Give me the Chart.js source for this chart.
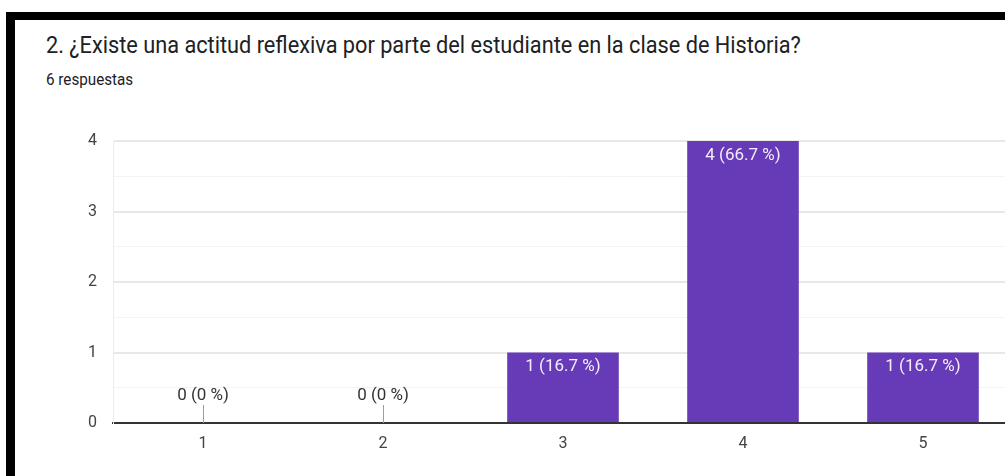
<!DOCTYPE html>
<html>
<head>
<meta charset="utf-8">
<script src="https://cdn.jsdelivr.net/npm/chart.js@4"></script>
<style>
  html, body { margin: 0; padding: 0; background: #fff; overflow: hidden; }
  body { width: 1005px; height: 476px; position: relative; font-family: Roboto, "Noto Sans", sans-serif; }
  .frame-top { position: absolute; left: 6px; top: 12px; width: 999px; height: 8px; background: #000; z-index: 2; }
  .frame-left { position: absolute; left: 6px; top: 12px; width: 9px; height: 464px; background: #000; z-index: 2; }
  #title { position: absolute; left: 46px; top: 31px; font-size: 24px; color: #202124; white-space: nowrap; transform-origin: 0 0; transform: scaleX(0.905); }
  #subtitle { position: absolute; left: 46px; top: 70px; font-size: 16px; color: #202124; white-space: nowrap; transform-origin: 0 0; transform: scaleX(0.95); }
  #wrap { position: absolute; left: 0; top: 0; width: 1013px; height: 476px; }
</style>
</head>
<body>
<div class="frame-top"></div>
<div class="frame-left"></div>
<div id="title">2. ¿Existe una actitud reflexiva por parte del estudiante en la clase de Historia?</div>
<div id="subtitle">6 respuestas</div>
<div id="wrap"><canvas id="chart"></canvas></div>
<script>
// answers on the 1-5 scale and how many students picked each
const categories = ["1", "2", "3", "4", "5"];
const counts = [0, 0, 1, 4, 1];
const percents = ["0 %", "0 %", "16.7 %", "66.7 %", "16.7 %"];
const totalResponses = 6;

const PURPLE = "#673ab7";

// "n (p %)" labels: white inside the bar top, or dark above the axis for empty bars
const barLabels = {
    id: "barLabels",
    afterDatasetsDraw(chart) {
        const ctx = chart.ctx;
        const meta = chart.getDatasetMeta(0);
        ctx.save();
        ctx.font = "17px Roboto, sans-serif";
        ctx.textAlign = "center";
        meta.data.forEach((bar, i) => {
            const text = counts[i] + " (" + percents[i] + ")";
            if (counts[i] > 0) {
                ctx.fillStyle = "#f3eefb";
                ctx.textBaseline = "top";
                ctx.fillText(text, bar.x, bar.y + 6);
            } else {
                ctx.strokeStyle = "#9e9e9e";
                ctx.lineWidth = 1;
                ctx.beginPath();
                ctx.moveTo(Math.round(bar.x) + 0.5, bar.base - 18);
                ctx.lineTo(Math.round(bar.x) + 0.5, bar.base);
                ctx.stroke();
                ctx.fillStyle = "#333";
                ctx.textBaseline = "middle";
                ctx.fillText(text, bar.x, bar.base - 27);
            }
        });
        ctx.restore();
    }
};

new Chart(document.getElementById("chart"), {
    type: "bar",
    data: {
        labels: categories,
        datasets: [{
            data: counts,
            backgroundColor: PURPLE,
            borderWidth: 0,
            barPercentage: 0.62,
            categoryPercentage: 1.0,
        }],
    },
    options: {
        responsive: true,
        maintainAspectRatio: false,
        animation: false,
        layout: { padding: { top: 141, right: 0, bottom: 0, left: 0 } },
        plugins: {
            legend: { display: false },
            tooltip: { enabled: false },
        },
        scales: {
            x: {
                grid: { display: false, drawTicks: false },
                border: { display: true, color: "#333", width: 2 },
                ticks: { color: "#444", font: { family: "Roboto", size: 16 }, padding: 11 },
                afterFit: s => { s.height = 53; },
            },
            y: {
                min: 0,
                max: 4,
                ticks: {
                    stepSize: 0.5,
                    color: "#444",
                    font: { family: "Roboto", size: 16 },
                    padding: 16,
                    callback: v => (Number.isInteger(v) ? v : ""),
                },
                grid: {
                    drawTicks: false,
                    color: c => (Number.isInteger(c.tick.value) ? "#e8e8e8" : "#f4f4f4"),
                    lineWidth: c => (Number.isInteger(c.tick.value) ? 2 : 1),
                },
                border: { display: true, color: "#ececec" },
                afterFit: s => { s.width = 113; },
            },
        },
    },
    plugins: [barLabels],
});
</script>
</body>
</html>
